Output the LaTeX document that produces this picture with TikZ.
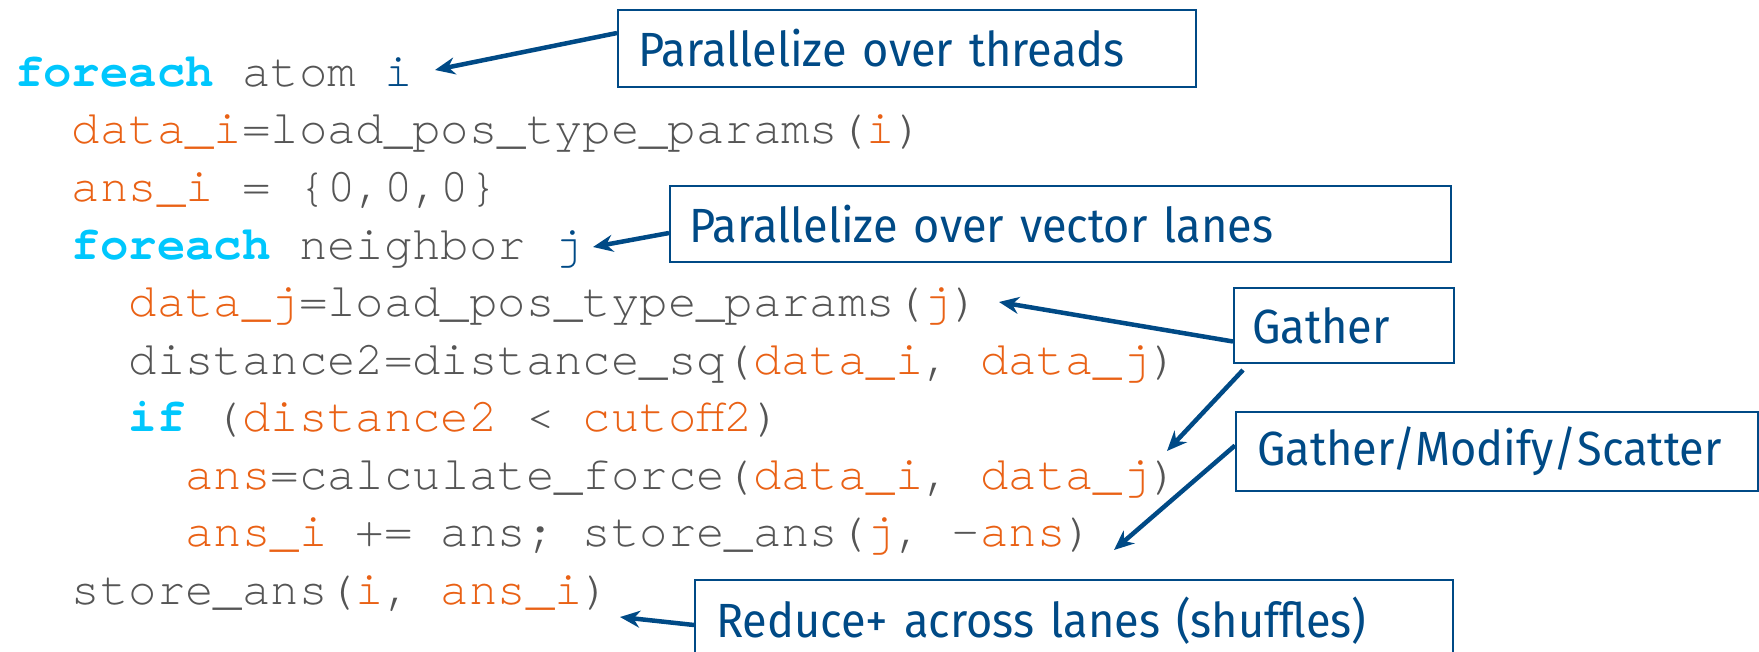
\documentclass[tikz,border=0pt]{standalone}
\usepackage{fontspec}
\setmainfont[FakeStretch=0.94]{Fira Sans}
\newfontfamily\codefont{TeX Gyre Cursor}
\usetikzlibrary{arrows.meta,calc}
\definecolor{kw}{HTML}{00C7FD}
\definecolor{org}{HTML}{E96115}
\definecolor{gry}{HTML}{555555}
\definecolor{ibl}{HTML}{004A86}
\newcommand{\K}[1]{\textcolor{kw}{\bfseries #1}}
\newcommand{\Or}[1]{\textcolor{org}{#1}}
\newcommand{\Bl}[1]{\textcolor{ibl}{#1}}
\begin{document}
\begin{tikzpicture}[x=1bp,y=-1bp,
  code/.style={anchor=base west,inner sep=0pt,text=gry,font=\codefont\fontsize{47.3bp}{57.5bp}\selectfont},
  callout/.style={draw=ibl,line width=2bp,text=ibl,anchor=north west,align=left,inner ysep=0pt,
     font=\fontsize{48bp}{55bp}\selectfont},
  pointer/.style={draw=ibl,line width=4.5bp,-{Stealth[length=20bp,width=17bp]}}]
\useasboundingbox (0,0) rectangle (1759,652);
% code lines
\node[code] (l1) at (15,86.5) {\K{foreach} atom \Bl{i}};
\node[code] (l2) at (71.8,144) {\Or{data\_i}=load\_pos\_type\_params(\Or{i})};
\node[code] (l3) at (71.8,201.5) {\Or{ans\_i} = \{0,0,0\}};
\node[code] (l4) at (71.8,259) {\K{foreach} neighbor \Bl{j}};
\node[code] (l5) at (128.6,316.5) {\Or{data\_j}=load\_pos\_type\_params(\Or{j})};
\node[code] (l6) at (128.6,374) {distance2=distance\_sq(\Or{data\_i}, \Or{data\_j})};
\node[code] (l7) at (128.6,431.5) {\K{if} (\Or{distance2} < \Or{cutoff2})};
\node[code] (l8) at (185.4,489) {\Or{ans}=calculate\_force(\Or{data\_i}, \Or{data\_j})};
\node[code] (l9) at (185.4,546.5) {\Or{ans\_i} += ans; store\_ans(\Or{j}, -\Or{ans})};
\node[code] (l10) at (71.8,604) {store\_ans(\Or{i}, \Or{ans\_i})};
% callouts
\node[callout,minimum width=578bp,minimum height=77bp,text width=538bp,inner xsep=20bp] (b1) at (617,9) {Parallelize over threads};
\node[callout,minimum width=781bp,minimum height=76bp,text width=743bp,inner xsep=19bp] (b2) at (669,185) {Parallelize over vector lanes};
\node[callout,minimum width=220bp,minimum height=75bp,text width=184bp,inner xsep=18bp] (b3) at (1233,287) {Gather};
\node[callout,minimum width=522bp,minimum height=79bp,text width=480bp,inner xsep=21bp] (b4) at (1235,411) {Gather/Modify/Scatter};
\node[callout,minimum width=758bp,minimum height=81bp,text width=716bp,inner xsep=21bp] (b5) at (694,579) {Reduce+ across lanes (shuffles)};
% arrow tips
\coordinate (t1) at (435,70);
\coordinate (t2) at (593,247);
\coordinate (t3) at (999,302);
\coordinate (t4) at (1167,451);
\coordinate (t5) at (1114,550);
\coordinate (t6) at (620,617);
\draw[pointer] ([yshift=15.5bp]b1.west) -- (t1);
\draw[pointer] ([yshift=-9bp]b2.west) -- (t2);
\draw[pointer] ([yshift=-16bp]b3.west) -- (t3);
\draw[pointer] ([xshift=10bp,yshift=-6bp]b3.south west) -- (t4);
\draw[pointer] ([yshift=6bp]b4.west) -- (t5);
\draw[pointer] ([yshift=-4.5bp]b5.west) -- (t6);
\end{tikzpicture}
\end{document}
